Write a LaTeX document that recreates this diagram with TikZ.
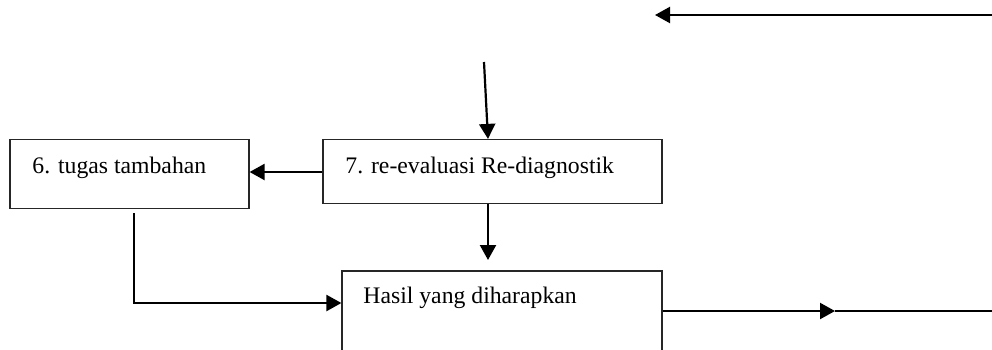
\documentclass[tikz,border=0pt]{standalone}
\usepackage{fontspec}
\setmainfont{Liberation Serif}
\usetikzlibrary{arrows.meta}
\tikzset{
	kotak/.style={draw=black!85,line width=0.6bp,minimum width=#1,inner sep=0pt},
	teks/.style={anchor=base west,inner sep=0pt,font=\fontsize{11.9}{13}\selectfont},
	panah/.style={line width=1.1bp,-{Triangle[length=7.5bp,width=8bp]}},
	garis/.style={line width=1.1bp}
}
\begin{document}
	\begin{tikzpicture}[x=0.5bp,y=-0.5bp]
		\useasboundingbox (0,0) rectangle (992,349);
		\node[kotak=119.5bp,minimum height=34.5bp] (tugas) at (129.5,174) {};
		\node[kotak=169.5bp,minimum height=32bp] (reeval) at (492.5,171.5) {};
		\node[kotak=160bp,minimum height=45bp] (hasil) at (502,316) {};
		\node[teks] (tugasT) at (32,173) {6. tugas tambahan};
		\node[teks] (reevalT) at (345,173) {7. re-evaluasi Re-diagnostik};
		\node[teks] (hasilT) at (363,303) {Hasil yang diharapkan};
		\coordinate (atasKanan) at (992,15);
		\coordinate (atasKiri) at (655,15);
		\coordinate (masuk) at (484,62);
		\coordinate (celah) at (488,260);
		\coordinate (tengah) at (835,311);
		\coordinate (keluar) at (992,311);
		\draw[panah] (atasKanan) -- (atasKiri);
		\draw[panah] (masuk) -- (reeval.north -| 488,0);
		\draw[panah] (reeval.south -| celah) -- (celah);
		\draw[panah] (reeval.west |- 0,172) -- (tugas.east |- 0,172);
		\draw[panah] (134,213) |- (hasil.west |- 0,303);
		\draw[panah] (hasil.east |- tengah) -- (tengah);
		\draw[garis] (tengah) -- (keluar);
	\end{tikzpicture}
\end{document}
